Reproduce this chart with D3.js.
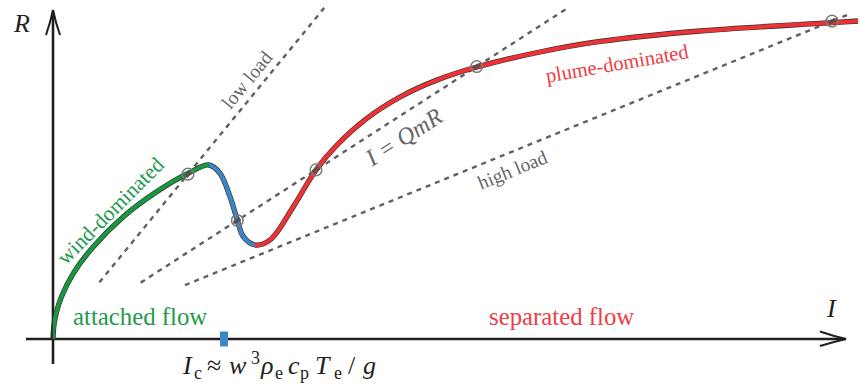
<!DOCTYPE html>
<html>
<head>
<meta charset="utf-8">
<script src="https://cdn.jsdelivr.net/npm/d3@7"></script>
<style>
  body { margin: 0; background: #fff; }
  svg { display: block; }
  text { font-family: "Liberation Serif", "DejaVu Serif", serif; }
</style>
</head>
<body>
<div id="chart"></div>
<script>
// response curve R(I)
const curveI = [0, 0.0125, 0.044, 0.106, 0.254, 0.504, 0.879, 1.296, 1.6875, 1.95,
  2.0875, 2.2125, 2.304, 2.379, 2.525,
  2.7125, 3.004, 3.2875, 3.55, 3.9125, 4.3375, 4.8, 5.3, 6.0875, 6.8375, 8.0875, 9.7375, 10.0625];
const curveR = [0, 0.18, 0.3375, 0.529, 0.821, 1.154, 1.529, 1.841, 2.071, 2.175,
  2.071, 1.779, 1.4875, 1.279, 1.175,
  1.2375, 1.654, 2.1125, 2.425, 2.75, 3.025, 3.2375, 3.4, 3.5875, 3.7188, 3.85, 3.9538, 3.975];

// regime boundaries along I
const regimeNames = ["wind", "unstable", "plume"];
const regimeStart = [0, 1.95, 2.525];
const regimeEnd = [1.95, 2.525, 10.2];
const regimeColors = ["#17973f", "#3a87c7", "#ed3237"];

// load lines R = slope * I
const loadNames = ["low load", "I = QmR", "high load"];
const loadSlopes = [1.221, 0.643, 0.408];
const loadFrom = [0.58, 1.096, 1.65];
const loadTo = [3.39, 6.44, 9.98];

// operating points: which load line, and I
const pointLine = [0, 1, 1, 1, 2];
const pointI = [1.6875, 2.304, 3.2875, 5.296, 9.7375];

const Ic = 2.1375;

const width = 860, height = 389;
const svg = d3.select("#chart").append("svg")
  .attr("width", width)
  .attr("height", height);

const x = d3.scaleLinear().domain([0, 10]).range([53, 853]);
const y = d3.scaleLinear().domain([0, 4]).range([339, 19]);

const axisColor = "#231f20";

// axes
svg.append("line")
  .attr("x1", 26).attr("x2", 845)
  .attr("y1", y(0)).attr("y2", y(0))
  .attr("stroke", axisColor).attr("stroke-width", 2.6);
svg.append("line")
  .attr("x1", x(0)).attr("x2", x(0))
  .attr("y1", 364).attr("y2", 11)
  .attr("stroke", axisColor).attr("stroke-width", 2.6);

// arrow heads
svg.append("path")
  .attr("d", "M46,35 Q50.5,22 53,10 Q55.5,22 60,35")
  .attr("fill", "none").attr("stroke", axisColor).attr("stroke-width", 2);
svg.append("path")
  .attr("d", "M820,331.5 Q833,336 846,339 Q833,342 820,346")
  .attr("fill", "none").attr("stroke", axisColor).attr("stroke-width", 2);

// dashed load lines
loadSlopes.forEach((s, i) => {
  svg.append("line")
    .attr("x1", x(loadFrom[i])).attr("y1", y(s * loadFrom[i]))
    .attr("x2", x(loadTo[i])).attr("y2", y(s * loadTo[i]))
    .attr("stroke", "#616161").attr("stroke-width", 2.4)
    .attr("stroke-dasharray", "5,5");
});

// curve
const pts = curveI.map((v, i) => [v, curveR[i]]);
const line = d3.line()
  .x(d => x(d[0]))
  .y(d => y(d[1]))
  .curve(d3.curveCatmullRom.alpha(0.5));

svg.append("path")
  .attr("d", line(pts))
  .attr("fill", "none").attr("stroke", "#3a3030").attr("stroke-width", 5.3);

const defs = svg.append("defs");
regimeNames.forEach((n, i) => {
  defs.append("clipPath").attr("id", "clip-" + n)
    .append("rect")
    .attr("x", x(regimeStart[i])).attr("width", x(regimeEnd[i]) - x(regimeStart[i]))
    .attr("y", 0).attr("height", height);
  svg.append("path")
    .attr("d", line(pts))
    .attr("clip-path", "url(#clip-" + n + ")")
    .attr("fill", "none").attr("stroke", regimeColors[i]).attr("stroke-width", 4);
});

// operating points
pointI.forEach((v, i) => {
  const s = loadSlopes[pointLine[i]];
  const cx = x(v), cy = y(s * v);
  const ang = Math.atan2(y(s) - y(0), x(1) - x(0));
  const dx = Math.cos(ang) * 3.5, dy = Math.sin(ang) * 3.5;
  svg.append("line")
    .attr("x1", cx - dx).attr("y1", cy - dy)
    .attr("x2", cx + dx).attr("y2", cy + dy)
    .attr("stroke", "#5a4e4e").attr("stroke-width", 4);
  svg.append("circle")
    .attr("cx", cx).attr("cy", cy).attr("r", 5.8)
    .attr("fill", "none").attr("stroke", "#7a7a7a").attr("stroke-width", 1.5);
});

// I_c marker
svg.append("rect")
  .attr("x", x(Ic) - 4).attr("y", y(0) - 7.5)
  .attr("width", 8).attr("height", 15)
  .attr("fill", "#3a87c7");

// rotated labels, centred at (I, R)
function label(txt, I, R, angle, size, color, italic) {
  svg.append("text")
    .attr("transform", `translate(${x(I)},${y(R)}) rotate(${angle})`)
    .attr("text-anchor", "middle")
    .attr("dominant-baseline", "central")
    .attr("font-size", size)
    .attr("font-style", italic ? "italic" : "normal")
    .attr("fill", color)
    .text(txt);
}
const lineAngle = s => Math.atan2(y(s) - y(0), x(1) - x(0)) * 180 / Math.PI;

label(loadNames[0], 2.425, 3.2375, lineAngle(loadSlopes[0]), 19.5, "#666", false);
label(loadNames[1], 4.3875, 2.525, lineAngle(loadSlopes[1]), 24, "#666", true);
label(loadNames[2], 5.744, 2.1125, lineAngle(loadSlopes[2]), 19.5, "#666", false);
label("wind-dominated", 0.72, 1.6, -45, 21.5, "#1e9a4c", false);
label("plume-dominated", 7.05, 3.444, -9.8, 20.5, "#ee3d45", false);

// flow regime labels
svg.append("text")
  .attr("x", 73).attr("y", 325)
  .attr("font-size", 24.8).attr("fill", "#1e9a4c")
  .text("attached flow");
svg.append("text")
  .attr("x", 489).attr("y", 325)
  .attr("font-size", 24.8).attr("fill", "#ee3d45")
  .text("separated flow");

// axis titles
svg.append("text")
  .attr("x", 14).attr("y", 32)
  .attr("font-size", 26).attr("font-style", "italic").attr("fill", "#231f20")
  .text("R");
svg.append("text")
  .attr("x", 827).attr("y", 317)
  .attr("font-size", 26).attr("font-style", "italic").attr("fill", "#231f20")
  .text("I");

// formula for I_c: glyph, style, x, baseline shift, size
const f = svg.append("text")
  .attr("y", 374)
  .attr("fill", "#231f20");
const parts = [
  ["I", "italic", 183, 0, 26],
  ["c", "normal", 194, 5, 18],
  ["\u2248", "normal", 207, 0, 26],
  ["w", "italic", 229, 0, 26],
  ["3", "normal", 251, -10, 18],
  ["\u03c1", "italic", 261, 0, 26],
  ["e", "normal", 275, 5, 18],
  ["c", "italic", 288, 0, 26],
  ["p", "normal", 300, 5, 18],
  ["T", "italic", 315, 0, 26],
  ["e", "normal", 334, 5, 18],
  ["/", "normal", 348, 0, 26],
  ["g", "italic", 363, 0, 26]
];
parts.forEach(p => {
  f.append("tspan")
    .attr("x", p[2])
    .attr("y", 374 + p[3])
    .attr("font-style", p[1])
    .attr("font-size", p[4])
    .text(p[0]);
});
</script>
</body>
</html>
